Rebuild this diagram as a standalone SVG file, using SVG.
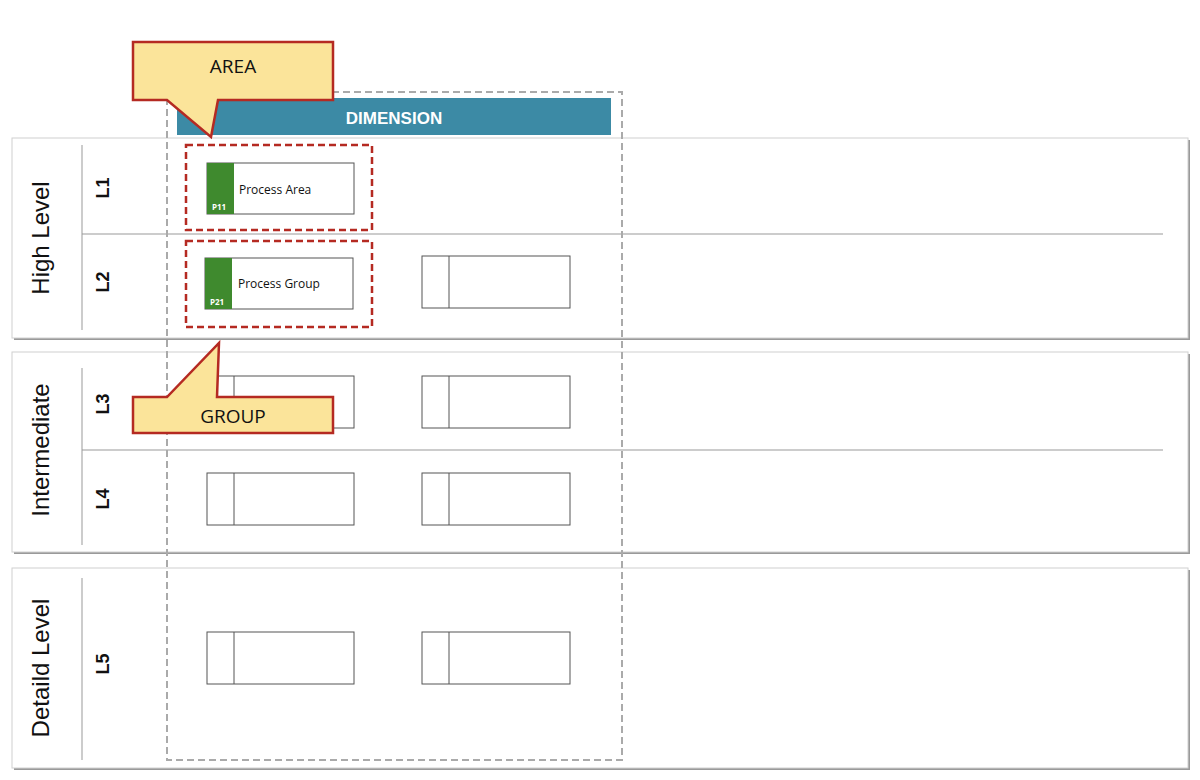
<svg xmlns="http://www.w3.org/2000/svg" width="1200" height="780" viewBox="0 0 1200 780">
<defs>
<style>
.panel{fill:#fff;stroke:#d0d0d0;stroke-width:1}
.sh{fill:#9a9a9a}
.ln{stroke:#999;stroke-width:1;fill:none}
.big{font-family:"Liberation Sans",Arial,sans-serif;font-size:24px;fill:#111}
.lv{font-family:"Liberation Sans",Arial,sans-serif;font-size:18px;font-weight:bold;fill:#111}
.box{fill:#fff;stroke:#555;stroke-width:1}
.red{fill:none;stroke:#b52a22;stroke-width:2.5;stroke-dasharray:7 4}
.call{fill:#fbe49a;stroke:#b52a22;stroke-width:2.5;stroke-linejoin:miter}
.ct{font-family:"Open Sans","Liberation Sans",sans-serif;font-size:19px;fill:#111}
.st{font-family:"Open Sans","Liberation Sans",sans-serif;font-size:12px;fill:#111}
.pt{font-family:"Open Sans","Liberation Sans",sans-serif;font-size:8px;font-weight:bold;fill:#fff}
</style>
</defs>
<g id="panels">
<rect class="sh" x="14" y="140" width="1176" height="200"/>
<rect class="panel" x="12" y="138" width="1176" height="200"/>
<rect class="sh" x="14" y="354" width="1176" height="200"/>
<rect class="panel" x="12" y="352" width="1176" height="200"/>
<rect class="sh" x="14" y="570" width="1176" height="200"/>
<rect class="panel" x="12" y="568" width="1176" height="200"/>
<line class="ln" x1="82" y1="145" x2="82" y2="330"/>
<line class="ln" x1="82" y1="234" x2="1163" y2="234"/>
<line class="ln" x1="82" y1="368" x2="82" y2="545"/>
<line class="ln" x1="82" y1="450" x2="1163" y2="450"/>
<line class="ln" x1="82" y1="578" x2="82" y2="760"/>
<text class="big" transform="translate(49,238) rotate(-90)" text-anchor="middle">High Level</text>
<text class="big" transform="translate(49,450) rotate(-90)" text-anchor="middle">Intermediate</text>
<text class="big" transform="translate(49,668) rotate(-90)" text-anchor="middle">Detaild Level</text>
<text class="lv" transform="translate(109,188) rotate(-90)" text-anchor="middle">L1</text>
<text class="lv" transform="translate(109,282) rotate(-90)" text-anchor="middle">L2</text>
<text class="lv" transform="translate(109,404) rotate(-90)" text-anchor="middle">L3</text>
<text class="lv" transform="translate(109,499) rotate(-90)" text-anchor="middle">L4</text>
<text class="lv" transform="translate(109,664) rotate(-90)" text-anchor="middle">L5</text>
</g>
<g id="dimension">
<rect x="167" y="92" width="455" height="668" fill="none" stroke="#aaa" stroke-width="2" stroke-dasharray="7 4"/>
<rect x="177" y="98" width="434" height="37" fill="#3c8aa5"/>
<text x="394" y="124" text-anchor="middle" font-family="Liberation Sans,Arial,sans-serif" font-size="17" font-weight="bold" fill="#fff">DIMENSION</text>
</g>
<g id="boxes">
<rect class="red" x="186" y="145" width="186" height="85"/>
<rect class="red" x="186" y="241" width="186" height="86"/>
<rect class="box" x="207" y="163" width="147" height="51"/>
<rect x="207" y="163" width="27" height="51" fill="#3f8a2e"/>
<text class="pt" x="212" y="210">P11</text>
<text class="st" x="239" y="194">Process Area</text>
<rect class="box" x="205" y="258" width="148" height="51"/>
<rect x="205" y="258" width="27" height="51" fill="#3f8a2e"/>
<text class="pt" x="210" y="305">P21</text>
<text class="st" x="238" y="288">Process Group</text>
<g id="e1"><rect class="box" x="422" y="256" width="148" height="52"/><line class="box" x1="449" y1="256" x2="449" y2="308"/></g>
<g id="e2"><rect class="box" x="207" y="376" width="147" height="52"/><line class="box" x1="234" y1="376" x2="234" y2="428"/></g>
<g id="e3"><rect class="box" x="422" y="376" width="148" height="52"/><line class="box" x1="449" y1="376" x2="449" y2="428"/></g>
<g id="e4"><rect class="box" x="207" y="473" width="147" height="52"/><line class="box" x1="234" y1="473" x2="234" y2="525"/></g>
<g id="e5"><rect class="box" x="422" y="473" width="148" height="52"/><line class="box" x1="449" y1="473" x2="449" y2="525"/></g>
<g id="e6"><rect class="box" x="207" y="632" width="147" height="52"/><line class="box" x1="234" y1="632" x2="234" y2="684"/></g>
<g id="e7"><rect class="box" x="422" y="632" width="148" height="52"/><line class="box" x1="449" y1="632" x2="449" y2="684"/></g>
</g>
<g id="area-callout">
<path class="call" d="M133,42 H333 V100 H218 L211,137 L167,100 H133 Z"/>
<text class="ct" x="233" y="73" text-anchor="middle">AREA</text>
</g>
<g id="group-callout">
<path class="call" d="M133,397 H167 L219,343 L217,397 H333 V433 H133 Z"/>
<text class="ct" x="233" y="423" text-anchor="middle">GROUP</text>
</g>
<g id="connectors"/>
</svg>
